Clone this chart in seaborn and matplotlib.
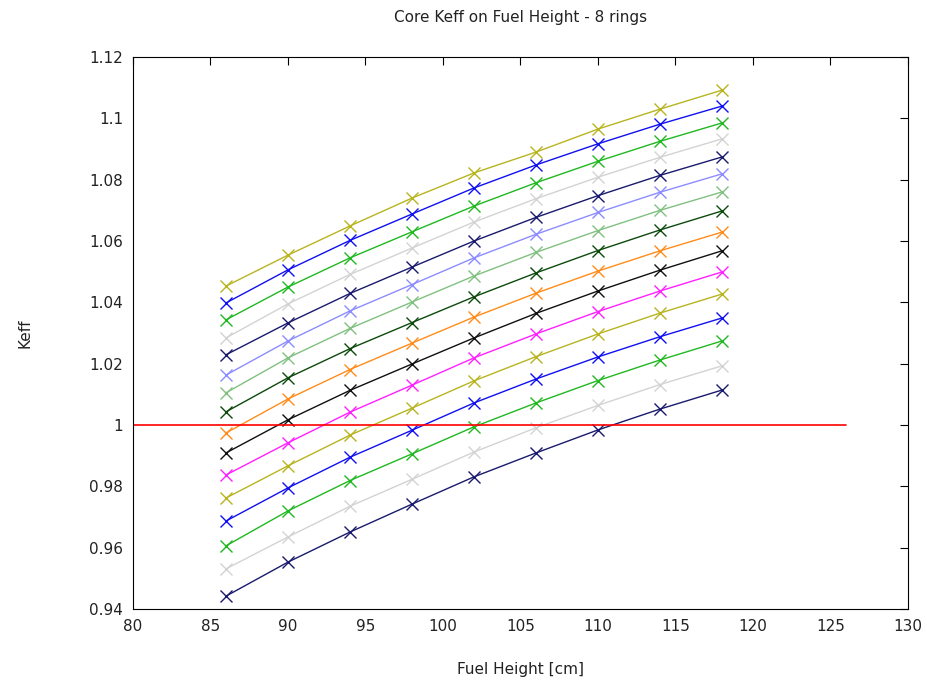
import numpy as np
import pandas as pd
import seaborn as sns
import matplotlib
matplotlib.use("Agg")
import matplotlib.pyplot as plt
from matplotlib.ticker import FuncFormatter, MultipleLocator

# altura de combustible [cm]
altura = [86, 90, 94, 98, 102, 106, 110, 114, 118]

# keff de cada curva (de abajo hacia arriba)
keff_01 = [0.9442, 0.9553, 0.9651, 0.9742, 0.9831, 0.9909, 0.9984, 1.0052, 1.0114]
keff_02 = [0.9531, 0.9635, 0.9735, 0.9823, 0.9912, 0.9991, 1.0064, 1.0132, 1.0193]
keff_03 = [0.9606, 0.9720, 0.9819, 0.9906, 0.9994, 1.0072, 1.0145, 1.0212, 1.0274]
keff_04 = [0.9687, 0.9795, 0.9895, 0.9983, 1.0072, 1.0150, 1.0222, 1.0288, 1.0349]
keff_05 = [0.9762, 0.9867, 0.9967, 1.0055, 1.0144, 1.0223, 1.0297, 1.0365, 1.0427]
keff_06 = [0.9837, 0.9942, 1.0042, 1.0130, 1.0219, 1.0297, 1.0370, 1.0437, 1.0499]
keff_07 = [0.9909, 1.0017, 1.0113, 1.0199, 1.0284, 1.0364, 1.0437, 1.0505, 1.0568]
keff_08 = [0.9974, 1.0085, 1.0181, 1.0267, 1.0352, 1.0430, 1.0502, 1.0568, 1.0629]
keff_09 = [1.0043, 1.0154, 1.0249, 1.0334, 1.0418, 1.0496, 1.0569, 1.0636, 1.0698]
keff_10 = [1.0105, 1.0219, 1.0315, 1.0401, 1.0486, 1.0563, 1.0634, 1.0700, 1.0760]
keff_11 = [1.0163, 1.0274, 1.0372, 1.0458, 1.0545, 1.0622, 1.0693, 1.0759, 1.0819]
keff_12 = [1.0229, 1.0333, 1.0429, 1.0515, 1.0600, 1.0677, 1.0748, 1.0814, 1.0874]
keff_13 = [1.0284, 1.0395, 1.0491, 1.0577, 1.0662, 1.0738, 1.0808, 1.0873, 1.0933]
keff_14 = [1.0343, 1.0450, 1.0545, 1.0630, 1.0714, 1.0790, 1.0860, 1.0925, 1.0985]
keff_15 = [1.0398, 1.0506, 1.0602, 1.0688, 1.0773, 1.0848, 1.0917, 1.0981, 1.1040]
keff_16 = [1.0453, 1.0554, 1.0649, 1.0740, 1.0822, 1.0890, 1.0965, 1.1030, 1.1092]

curvas = [keff_01, keff_02, keff_03, keff_04, keff_05, keff_06, keff_07, keff_08,
          keff_09, keff_10, keff_11, keff_12, keff_13, keff_14, keff_15, keff_16]

colores = ["#1a1a6e", "#d3d3d3", "#20b820", "#1010f0", "#b8b420", "#ff20ff",
           "#101010", "#ff8c1a", "#0c4a0c", "#80c080", "#8c8cff", "#1a1a6e",
           "#d3d3d3", "#20b820", "#1010f0", "#b8b420"]

# linea de criticidad
critico_x = [80, 126]
critico_y = [1, 1]

filas = []
for i, c in enumerate(curvas):
    for h, k in zip(altura, c):
        filas.append({"curva": i, "altura": h, "keff": k})
df = pd.DataFrame(filas)

sns.set_style("white")
plt.rcParams["font.family"] = ["DejaVu Sans"]

fig = plt.figure(figsize=(9.28, 6.82), dpi=100)
ax = fig.add_axes([0.1433, 0.107, 0.8351, 0.8094])

sns.lineplot(data=df, x="altura", y="keff", hue="curva", palette=colores,
             marker="x", markersize=9, markeredgewidth=1, linewidth=1,
             legend=False, ax=ax)
for linea in ax.lines:
    linea.set_markeredgecolor(linea.get_color())
sns.lineplot(x=critico_x, y=critico_y, color="red", linewidth=1.2, ax=ax)

ax.set_xlim(80, 130)
ax.set_ylim(0.94, 1.12)
ax.xaxis.set_major_locator(MultipleLocator(5))
ax.yaxis.set_major_locator(MultipleLocator(0.02))
ax.yaxis.set_major_formatter(FuncFormatter(lambda v, p: "%g" % round(v, 4)))
ax.tick_params(direction="in", length=6, width=0.8, top=True, right=True,
               labelsize=11, colors="black", pad=7)
ax.tick_params(labelcolor="#222222")
for s in ax.spines.values():
    s.set_color("black")
    s.set_linewidth(0.8)

ax.set_title("Core Keff on Fuel Height - 8 rings", fontsize=11, pad=25, color="#222222")
ax.set_xlabel("Fuel Height [cm]", fontsize=11, labelpad=20, color="#222222")
ax.set_ylabel("Keff", fontsize=11, labelpad=41, color="#222222")

fig.savefig("out.png", dpi=100)
